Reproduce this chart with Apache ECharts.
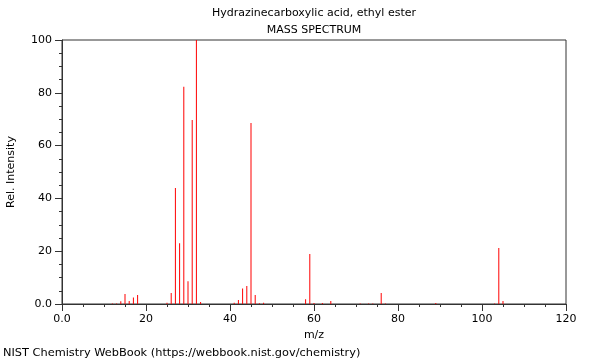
<!DOCTYPE html>
<html><head><meta charset="utf-8">
<script src="https://cdn.jsdelivr.net/npm/echarts@6/dist/echarts.min.js"></script>
<style>html,body{margin:0;padding:0;background:#fff}#c{width:600px;height:360px}</style>
</head><body><div id="c"></div>
<script>
const titleLine1 = "Hydrazinecarboxylic acid, ethyl ester";
const titleLine2 = "MASS SPECTRUM";
const footer = "NIST Chemistry WebBook (https://webbook.nist.gov/chemistry)";
const xName = "m/z";
const yName = "Rel. Intensity";
const mz = [12,13,14,15,16,17,18,25,26,27,28,29,30,31,32,33,41,42,43,44,45,46,47,48,58,59,60,62,64,71,73,74,76,77,89,103,104,105];
const intensity = [0.2,0.2,1.0,3.8,1.1,2.5,3.4,0.5,4.2,43.9,23,82.3,8.6,69.7,100,0.8,0.5,1.5,5.9,6.8,68.6,3.4,0.3,0.5,1.8,18.9,0.4,0.4,1.1,0.2,0.2,0.2,4.2,0.2,0.4,0.2,21.2,1.1];

const chart = echarts.init(document.getElementById('c'), null, {renderer:'canvas'});
const font = 'DejaVu Sans';
const fmt = v => v === 0 ? '0.0' : String(v);
chart.setOption({
  animation:false,
  textStyle:{fontFamily:font},
  grid:{left:62,right:34,top:40,bottom:56,containLabel:false,outerBoundsMode:'none',show:true,borderColor:'#333',borderWidth:1,backgroundColor:'transparent'},
  graphic:[
    {type:'text',x:314,y:13,style:{text:titleLine1,font:'11px "DejaVu Sans"',fill:'#000',textAlign:'center',textVerticalAlign:'middle'}},
    {type:'text',x:314,y:30,style:{text:titleLine2,font:'11px "DejaVu Sans"',fill:'#000',textAlign:'center',textVerticalAlign:'middle'}},
    {type:'text',x:3,y:353,style:{text:footer,font:'11.35px "DejaVu Sans"',fill:'#000',textAlign:'left',textVerticalAlign:'middle'}}
  ],
  xAxis:{type:'value',min:0,max:120,interval:20,
    name:xName,nameLocation:'middle',nameGap:26,nameTextStyle:{fontFamily:font,fontSize:11,color:'#000'},
    axisLine:{onZero:false,lineStyle:{color:'#333'}},
    axisTick:{length:7,lineStyle:{color:'#333'}},
    minorTick:{show:true,splitNumber:4,length:3,lineStyle:{color:'#333'}},
    splitLine:{show:false},
    axisLabel:{formatter:fmt,fontFamily:font,fontSize:11,color:'#000',margin:10}},
  yAxis:{type:'value',min:0,max:100,interval:20,
    name:yName,nameLocation:'middle',nameGap:45,nameRotate:90,nameTextStyle:{fontFamily:font,fontSize:11,color:'#000'},
    axisLine:{show:true,lineStyle:{color:'#333'}},
    axisTick:{show:true,length:7,lineStyle:{color:'#333'}},
    minorTick:{show:true,splitNumber:4,length:3,lineStyle:{color:'#333'}},
    splitLine:{show:false},
    axisLabel:{formatter:fmt,fontFamily:font,fontSize:11,color:'#000',margin:10}},
  series:[{type:'bar',barWidth:1,barGap:'-100%',itemStyle:{color:'#ff0000'},
    data:mz.map((m,i)=>[m,intensity[i]])}]
});
</script></body></html>
